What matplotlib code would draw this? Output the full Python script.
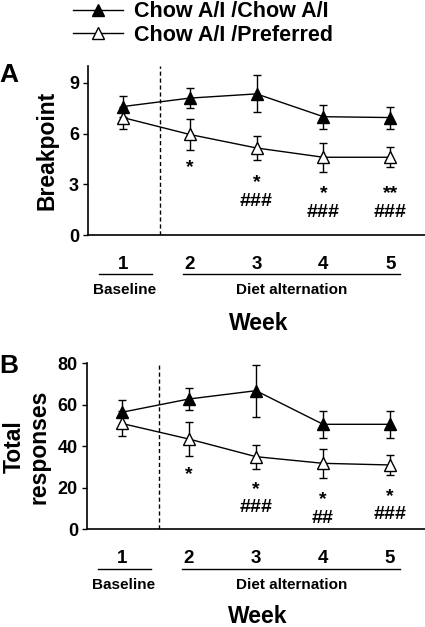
import numpy as np
import matplotlib
matplotlib.use('Agg')
import matplotlib.pyplot as plt
from matplotlib.lines import Line2D
from matplotlib.transforms import blended_transform_factory

plt.rcParams['font.family'] = ['Liberation Sans', 'DejaVu Sans']
plt.rcParams['font.weight'] = 'bold'

weeks = [1, 2, 3, 4, 5]
week_labels = ['1', '2', '3', '4', '5']
series_names = ['Chow A/I /Chow A/I', 'Chow A/I /Preferred']

# panel A: breakpoint
bp_chow = [7.6, 8.1, 8.35, 7.0, 6.95]
bp_chow_err = [0.6, 0.6, 1.1, 0.7, 0.65]
bp_pref = [6.95, 5.95, 5.15, 4.6, 4.6]
bp_pref_err = [0.65, 0.9, 0.7, 0.85, 0.6]
bp_sig = ['', '*', '*\n###', '*\n###', '**\n###']
bp_sig_y = [0, 3.97, 2.55, 1.9, 1.9]

# panel B: total responses
tr_chow = [56.4, 62.8, 66.8, 50.6, 50.6]
tr_chow_err = [6.0, 5.5, 12.5, 6.5, 6.5]
tr_pref = [51.0, 43.5, 35.0, 31.8, 31.0]
tr_pref_err = [6.0, 8.0, 5.8, 7.0, 5.0]
tr_sig = ['', '*', '*\n###', '*\n##', '*\n###']
tr_sig_y = [0, 26.6, 14.9, 9.9, 11.4]

W, H = 425, 627
fig = plt.figure(figsize=(W / 100, H / 100), dpi=100)


def panel(rect, chow, chow_err, pref, pref_err, ylim, yticks, sig, sig_y,
          ylab, ylab_xy, letter, letter_xy, under_y, text_y, week_y):
    ax = fig.add_axes(rect)
    ax.errorbar(weeks, chow, yerr=chow_err, color='black', lw=1.0, marker='^',
                ms=8.5, mfc='black', mec='black', capsize=3, elinewidth=1.0, capthick=1.0)
    ax.errorbar(weeks, pref, yerr=pref_err, color='black', lw=1.0, marker='^',
                ms=8.5, mfc='white', mec='black', mew=1.0, capsize=3,
                elinewidth=1.0, capthick=1.0)
    ax.axvline(1.56, color='black', lw=1.0, ls=(0, (3, 2)))
    ax.set_xlim(0.48, 5.52)
    ax.set_ylim(*ylim)
    ax.set_yticks(yticks)
    ax.set_xticks(weeks)
    ax.set_xticklabels(week_labels, fontsize=13.5, fontweight='bold')
    ax.tick_params(axis='x', length=0, pad=15)
    ax.tick_params(axis='y', length=3.5, width=1.0, pad=3, labelsize=13)
    for lab in ax.get_yticklabels():
        lab.set_fontweight('bold')
    for s in ['top', 'right']:
        ax.spines[s].set_visible(False)
    for s in ['left', 'bottom']:
        ax.spines[s].set_linewidth(1.2)
    # significance marks: * vs week 1, # vs the other group
    for x, s, y in zip(weeks, sig, sig_y):
        if s:
            ax.text(x, y, s, ha='center', va='center', fontsize=14,
                    fontweight='bold', linespacing=1.12, multialignment='center')
    tr = blended_transform_factory(ax.transData, fig.transFigure)
    ax.add_line(Line2D([0.64, 1.43], [under_y, under_y], transform=tr, color='black',
                       lw=1.0, clip_on=False))
    ax.add_line(Line2D([1.9, 5.15], [under_y, under_y], transform=tr, color='black',
                       lw=1.0, clip_on=False))
    ax.text(1.03, text_y, 'Baseline', transform=tr, ha='center', va='center',
            fontsize=11, fontweight='bold')
    ax.text(3.53, text_y, 'Diet alternation', transform=tr, ha='center', va='center',
            fontsize=11, fontweight='bold')
    ax.text(3.03, week_y, 'Week', transform=tr, ha='center', va='center',
            fontsize=16.5, fontweight='bold')
    fig.text(ylab_xy[0], ylab_xy[1], ylab, rotation=90, ha='center', va='center',
             fontsize=16.5, fontweight='bold', linespacing=1.1)
    fig.text(letter_xy[0], letter_xy[1], letter, ha='center', va='center',
             fontsize=19, fontweight='bold')
    return ax


axA = panel([88 / W, 1 - 235 / H, 337 / W, 169 / H], bp_chow, bp_chow_err, bp_pref,
            bp_pref_err, (0, 10), [0, 3, 6, 9], bp_sig, bp_sig_y,
            'Breakpoint', (47 / W, 1 - 150 / H), 'A', (9 / W, 1 - 75 / H),
            1 - 274 / H, 1 - 290 / H, 1 - 323 / H)
axB = panel([87 / W, 1 - 529.3 / H, 338 / W, 166 / H], tr_chow, tr_chow_err, tr_pref,
            tr_pref_err, (0, 80), [0, 20, 40, 60, 80], tr_sig, tr_sig_y,
            'Total\nresponses', (27 / W, 1 - 447 / H), 'B', (9 / W, 1 - 366 / H),
            1 - 569.3 / H, 1 - 585 / H, 1 - 616.7 / H)

handles = [Line2D([], [], color='black', lw=1.0, marker='^', ms=8.5, mfc='black', mec='black'),
           Line2D([], [], color='black', lw=1.0, marker='^', ms=8.5, mfc='white', mec='black')]
fig.legend(handles, series_names, loc='upper left', bbox_to_anchor=(72 / W, 1.0),
           frameon=False, handlelength=2.3, handletextpad=0.55, labelspacing=0.12,
           borderaxespad=0, borderpad=0.05, prop={'size': 15.5, 'weight': 'bold'})

fig.savefig('out.png', dpi=100)
